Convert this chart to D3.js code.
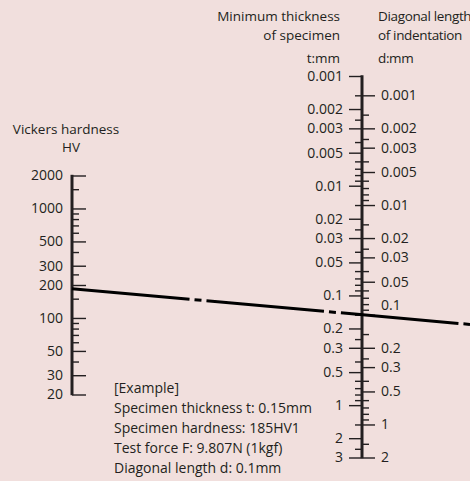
<!DOCTYPE html>
<html><head><meta charset="utf-8">
<script src="https://cdn.jsdelivr.net/npm/d3@7"></script>
<style>
html,body{margin:0;padding:0;background:#f1dfdd;}
svg{display:block;}
text{font-family:"Open Sans",sans-serif;font-size:14px;fill:#231f20;}
text.title{font-size:13.5px;}
text.dtitle{letter-spacing:-0.35px;}
</style></head><body>
<svg id="c" width="470" height="481"></svg>
<script>
// ---- data ----
const hvMajor = [2000, 1000, 500, 300, 200, 100, 50, 30, 20];
const hvMinor = [1500, 900, 800, 700, 600, 400, 250, 150, 90, 80, 70, 60, 40];
const tMajor = [0.001, 0.002, 0.003, 0.005, 0.01, 0.02, 0.03, 0.05, 0.1, 0.2, 0.3, 0.5, 1, 2, 3];
const tMinor = [0.0015, 0.0025, 0.004, 0.006, 0.007, 0.008, 0.009, 0.015, 0.025, 0.04, 0.06, 0.07, 0.08, 0.09,
                0.15, 0.25, 0.4, 0.6, 0.7, 0.8, 0.9, 1.5, 2.5];
const dMajor = [0.001, 0.002, 0.003, 0.005, 0.01, 0.02, 0.03, 0.05, 0.1, 0.2, 0.3, 0.5, 1, 2];
const dMinor = [0.0015, 0.0025, 0.004, 0.006, 0.007, 0.008, 0.009, 0.015, 0.025, 0.04, 0.06, 0.07, 0.08, 0.09,
                0.15, 0.25, 0.4, 0.6, 0.7, 0.8, 0.9, 1.5];
const thicknessRatio = 1.5;          // t = 1.5 d
const exampleHV = 185;
const exampleT = 0.15;
const exampleD = 0.1;
const hvTitle = ["Vickers hardness", "HV"];
const tTitle = ["Minimum thickness", "of specimen", "t:mm"];
const dTitle = ["Diagonal length", "of indentation", "d:mm"];
const exampleLines = ["[Example]", "Specimen thickness t: 0.15mm", "Specimen hardness: 185HV1",
                      "Test force F: 9.807N (1kgf)", "Diagonal length d: 0.1mm"];

// ---- layout ----
const W = 470, H = 481;
const hvX = 72, midX = 362;
const ink = "#231f20";
const svg = d3.select("#c");

const hvY = d3.scaleLog().domain([20, 2000]).range([394.5, 175.5]);
const tY = d3.scaleLog().domain([0.001, 3]).range([76, 457.5]);
const dY = d3.scaleLog().domain(tY.domain().map(v => v / thicknessRatio)).range(tY.range());

const fmt = d => String(+d.toPrecision(3));

function ticks(axisFn, scale, vals, size, x, withLabels, pad) {
  const a = axisFn(scale).tickValues(vals).tickSize(size).tickSizeOuter(0)
    .tickPadding(pad || 0).tickFormat(withLabels ? fmt : "");
  const g = svg.append("g").attr("transform", `translate(${x},0)`).attr("color", ink).call(a);
  g.select(".domain").remove();
  g.selectAll(".tick line").attr("stroke-width", 1.4);
  g.selectAll(".tick text").style("fill", ink);
  g.attr("font-size", null).attr("font-family", null);
  return g;
}

// HV axis
ticks(d3.axisRight, hvY, hvMinor, 7, hvX, false);
ticks(d3.axisRight, hvY, hvMajor, 14, hvX, false);
const hvLab = svg.append("g").attr("transform", `translate(${hvX},0)`)
  .call(d3.axisLeft(hvY).tickValues(hvMajor).tickSize(0).tickPadding(9).tickFormat(d3.format("d")));
hvLab.select(".domain").remove();
hvLab.attr("font-size", null).attr("font-family", null);
hvLab.selectAll("text").style("fill", ink);
svg.append("line").attr("x1", hvX).attr("x2", hvX)
  .attr("y1", hvY(2000) - 0.7).attr("y2", hvY(20) + 0.7)
  .attr("stroke", ink).attr("stroke-width", 3);

// middle axis: t on left, d on right
ticks(d3.axisLeft, tY, tMinor, 7, midX, false);
ticks(d3.axisLeft, tY, tMajor, 13, midX, true, 6);
ticks(d3.axisRight, dY, dMinor, 7, midX, false);
const dG = ticks(d3.axisRight, dY, dMajor, 13, midX, true, 6);
// label of example d sits above the example line
dG.selectAll(".tick text").filter(d => d === exampleD).attr("dy", "-0.36em");
svg.append("line").attr("x1", midX).attr("x2", midX)
  .attr("y1", tY(0.001) - 0.7).attr("y2", tY(3) + 0.7)
  .attr("stroke", ink).attr("stroke-width", 3);

// titles
svg.append("text").attr("class", "title").attr("x", 66).attr("y", 134).attr("text-anchor", "middle").text(hvTitle[0]);
svg.append("text").attr("class", "title").attr("x", 71).attr("y", 151.5).attr("text-anchor", "middle").text(hvTitle[1]);
const titleY = [20.5, 40, 63];
tTitle.forEach((s, i) => svg.append("text").attr("class", "title").attr("x", 340).attr("y", titleY[i]).attr("text-anchor", "end").text(s));
dTitle.forEach((s, i) => svg.append("text").attr("class", "title dtitle").attr("x", 378).attr("y", titleY[i]).text(s));

// example text
exampleLines.forEach((s, i) => svg.append("text").attr("x", 114).attr("y", 393 + i * 20).text(s));

// example line: HV -> t, extended to the right edge
const p1 = [hvX, hvY(exampleHV)], p2 = [midX, tY(exampleT)];
const slope = (p2[1] - p1[1]) / (p2[0] - p1[0]);
const p3 = [W, p1[1] + slope * (W - p1[0])];
svg.append("path").attr("d", d3.line()([p1, p3]))
  .attr("stroke", "#000").attr("stroke-width", 3).attr("fill", "none")
  .attr("stroke-dasharray", "118,5,7,5");
</script>
</body></html>
